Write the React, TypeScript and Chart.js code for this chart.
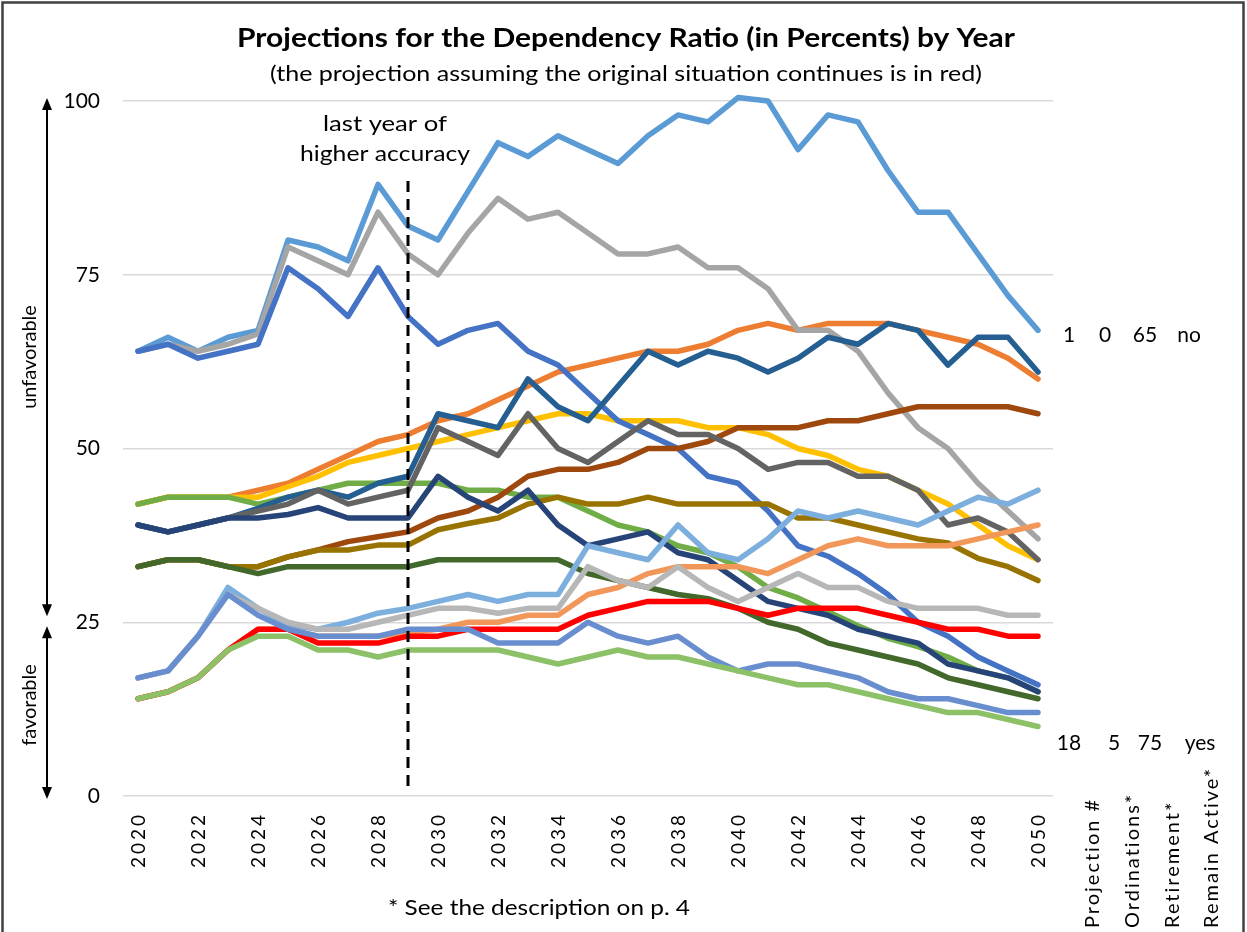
import React, { useEffect, useRef } from "react";
import { Chart, registerables } from "chart.js";

Chart.register(...registerables);

// ---------- data ----------
const years = [
  "2020", "2021", "2022", "2023", "2024", "2025", "2026", "2027", "2028", "2029",
  "2030", "2031", "2032", "2033", "2034", "2035", "2036", "2037", "2038", "2039",
  "2040", "2041", "2042", "2043", "2044", "2045", "2046", "2047", "2048", "2049", "2050",
];
const xTickLabels = ["2020", "2022", "2024", "2026", "2028", "2030", "2032", "2034", "2036", "2038", "2040", "2042", "2044", "2046", "2048", "2050"];
const yTicks = [0, 25, 50, 75, 100];

const p1 = [64, 66, 64, 66, 67, 80, 79, 77, 88, 82, 80, 87, 94, 92, 95, 93, 91, 95, 98, 97, 100.5, 100, 93, 98, 97, 90, 84, 84, 78, 72, 67];
const p2 = [42, 43, 43, 43, 44, 45, 47, 49, 51, 52, 54, 55, 57, 59, 61, 62, 63, 64, 64, 65, 67, 68, 67, 68, 68, 68, 67, 66, 65, 63, 60];
const p3 = [64, 65, 64, 65, 66.5, 79, 77, 75, 84, 78, 75, 81, 86, 83, 84, 81, 78, 78, 79, 76, 76, 73, 67, 67, 64, 58, 53, 50, 45, 41, 37];
const p4 = [42, 43, 43, 43, 43, 44.5, 46, 48, 49, 50, 51, 52, 53, 54, 55, 55, 54, 54, 54, 53, 53, 52, 50, 49, 47, 46, 44, 42, 39, 36, 34];
const p5 = [64, 65, 63, 64, 65, 76, 73, 69, 76, 69, 65, 67, 68, 64, 62, 58, 54, 52, 50, 46, 45, 41, 36, 34.5, 32, 29, 25, 23, 20, 18, 16];
const p6 = [42, 43, 43, 43, 42, 43, 44, 45, 45, 45, 45, 44, 44, 43, 43, 41, 39, 38, 36, 35, 33, 30, 28.5, 26.5, 24.5, 22.7, 21.5, 20, 18, 17, 15];
const p7 = [39, 38, 39, 40, 41.4, 43, 44, 43, 45, 46, 55, 54, 53, 60, 56, 54, 59, 64, 62, 64, 63, 61, 63, 66, 65, 68, 67, 62, 66, 66, 61];
const p8 = [33, 34, 34, 33, 33, 34.4, 35.4, 36.6, 37.3, 38, 40, 41, 43, 46, 47, 47, 48, 50, 50, 51, 53, 53, 53, 54, 54, 55, 56, 56, 56, 56, 55];
const p9 = [39, 38, 39, 40, 41, 42, 44, 42, 43, 44, 53, 51, 49, 55, 50, 48, 51, 54, 52, 52, 50, 47, 48, 48, 46, 46, 44, 39, 40, 38, 34];
const p10 = [33, 34, 34, 33, 33, 34.4, 35.4, 35.4, 36.1, 36.1, 38.3, 39.2, 40, 42, 43, 42, 42, 43, 42, 42, 42, 42, 40, 40, 39, 38, 37, 36.4, 34.2, 33, 31];
const p11 = [39, 38, 39, 40, 40, 40.5, 41.5, 40, 40, 40, 46, 43, 41, 44, 39, 36, 37, 38, 35, 34, 31, 28, 27, 26, 24, 23, 22, 19, 18, 17, 15];
const p12 = [33, 34, 34, 33, 32, 33, 33, 33, 33, 33, 34, 34, 34, 34, 34, 32, 31, 30, 29, 28.4, 27, 25, 24, 22, 21, 20, 19, 17, 16, 15, 14];
const p13 = [17, 18, 23, 30, 27, 24.6, 24, 25, 26.3, 27, 28, 29, 28, 29, 29, 36, 35, 34, 39, 35, 34, 37, 41, 40, 41, 40, 39, 41, 43, 42, 44];
const p14 = [14, 15, 17, 21, 24, 24, 23, 23, 23, 23.5, 24, 25, 25, 26, 26, 29, 30, 32, 33, 33, 33, 32, 34, 36, 37, 36, 36, 36, 37, 38, 39];
const p15 = [17, 18, 23, 29, 27, 25, 24, 24, 25, 26, 27, 27, 26.3, 27, 27, 33, 31, 30, 33, 30, 28, 30, 32, 30, 30, 28, 27, 27, 27, 26, 26];
const p16 = [14, 15, 17, 21, 24, 24, 22, 22, 22, 23, 23, 24, 24, 24, 24, 26, 27, 28, 28, 28, 27, 26, 27, 27, 27, 26, 25, 24, 24, 23, 23];
const p17 = [17, 18, 23, 29, 26, 24, 23, 23, 23, 24, 24, 24, 22, 22, 22, 25, 23, 22, 23, 20, 18, 19, 19, 18, 17, 15, 14, 14, 13, 12, 12];
const p18 = [14, 15, 17, 21, 23, 23, 21, 21, 20, 21, 21, 21, 21, 20, 19, 20, 21, 20, 20, 19, 18, 17, 16, 16, 15, 14, 13, 12, 12, 11, 10];

const series = [p1, p2, p3, p4, p5, p6, p7, p8, p9, p10, p11, p12, p13, p14, p15, p16, p17, p18];
const seriesColors = [
  "#5B9BD5", "#ED7D31", "#A5A5A5", "#FFC000", "#4472C4", "#70AD47",
  "#255E91", "#9E480E", "#636363", "#997300", "#264478", "#43682B",
  "#7CAFDD", "#F1975A", "#B7B7B7", "#FF0000", "#698ED0", "#8CC168",
];

const titleText = "Projections for the Dependency Ratio (in Percents) by Year";
const subtitleText = "(the projection assuming the original situation continues is in red)";
const markerYearIndex = 9; // 2029
const markerLines = ["last year of", "higher accuracy"];
const topRowLabels = ["1", "0", "65", "no"];
const bottomRowLabels = ["18", "5", "75", "yes"];
const columnHeaders = ["Projection #", "Ordinations*", "Retirement*", "Remain Active*"];
const footnote = "* See the description on p. 4";

const FONT = "Lato, 'Open Sans', sans-serif";

function fitText(ctx: CanvasRenderingContext2D, text: string, cx: number, y: number, font: string, width: number) {
  ctx.save();
  ctx.font = font;
  const w = ctx.measureText(text).width;
  ctx.translate(cx, y);
  ctx.scale(width / w, 1);
  ctx.textAlign = "center";
  ctx.fillText(text, 0, 0);
  ctx.restore();
}

function arrow(ctx: CanvasRenderingContext2D, x: number, y1: number, y2: number) {
  ctx.beginPath();
  ctx.moveTo(x, y1 + 10);
  ctx.lineTo(x, y2 - 10);
  ctx.stroke();
  ctx.beginPath();
  ctx.moveTo(x, y1);
  ctx.lineTo(x - 5, y1 + 12);
  ctx.lineTo(x + 5, y1 + 12);
  ctx.closePath();
  ctx.fill();
  ctx.beginPath();
  ctx.moveTo(x, y2);
  ctx.lineTo(x - 5, y2 - 12);
  ctx.lineTo(x + 5, y2 - 12);
  ctx.closePath();
  ctx.fill();
}

const decorPlugin = {
  id: "decor",
  beforeDraw(chart: any) {
    const ctx = chart.ctx as CanvasRenderingContext2D;
    ctx.save();
    ctx.fillStyle = "#ffffff";
    ctx.fillRect(0, 0, chart.width, chart.height);
    ctx.restore();
  },
  afterDatasetsDraw(chart: any) {
    const ctx = chart.ctx as CanvasRenderingContext2D;
    const xs = chart.scales.x;
    const ys = chart.scales.y;
    ctx.save();
    const mx = xs.getPixelForValue(markerYearIndex);
    ctx.strokeStyle = "#000";
    ctx.lineWidth = 3;
    ctx.setLineDash([11, 7]);
    ctx.beginPath();
    ctx.moveTo(mx, ys.getPixelForValue(88.5));
    ctx.lineTo(mx, ys.getPixelForValue(0.8));
    ctx.stroke();
    ctx.setLineDash([]);
    ctx.restore();
  },
  afterDraw(chart: any) {
    const ctx = chart.ctx as CanvasRenderingContext2D;
    const xs = chart.scales.x;
    const ys = chart.scales.y;
    const area = chart.chartArea;
    ctx.save();

    // frame
    ctx.strokeStyle = "#404040";
    ctx.lineWidth = 2.5;
    ctx.strokeRect(2.5, 2.5, 1241, 960);

    // title + subtitle
    ctx.fillStyle = "#000";
    ctx.textBaseline = "alphabetic";
    fitText(ctx, titleText, 626, 47, `bold 27px ${FONT}`, 778);
    fitText(ctx, subtitleText, 626, 81, `22px ${FONT}`, 712);

    // marker text
    const mx = xs.getPixelForValue(markerYearIndex);
    fitText(ctx, markerLines[0], mx - 23, 131, `22px ${FONT}`, 124);
    fitText(ctx, markerLines[1], mx - 23, 161, `22px ${FONT}`, 170);

    // x tick labels (rotated)
    ctx.font = `19px ${FONT}`;
    (ctx as any).letterSpacing = "3px";
    ctx.textAlign = "right";
    ctx.textBaseline = "middle";
    xTickLabels.forEach((lab) => {
      const idx = years.indexOf(lab);
      const x = xs.getPixelForValue(idx);
      ctx.save();
      ctx.translate(x + 1, area.bottom + 16);
      ctx.rotate(-Math.PI / 2);
      ctx.fillText(lab, 0, 0);
      ctx.restore();
    });

    // column headers
    ctx.font = `20px ${FONT}`;
    (ctx as any).letterSpacing = "2px";
    ctx.textAlign = "left";
    const hx = [1093, 1133, 1173, 1212];
    columnHeaders.forEach((h, i) => {
      ctx.save();
      ctx.translate(hx[i], 928);
      ctx.rotate(-Math.PI / 2);
      ctx.fillText(h, 0, 0);
      ctx.restore();
    });
    (ctx as any).letterSpacing = "0px";

    // row labels at the right
    ctx.font = `21px ${FONT}`;
    ctx.textAlign = "center";
    const topX = [1069, 1105, 1145, 1189];
    const botX = [1069, 1114, 1150, 1200];
    topRowLabels.forEach((t, i) => ctx.fillText(t, topX[i], 335));
    bottomRowLabels.forEach((t, i) => ctx.fillText(t, botX[i], 743));

    // arrows & side labels
    ctx.fillStyle = "#000";
    ctx.strokeStyle = "#000";
    ctx.lineWidth = 2;
    arrow(ctx, 47, ys.getPixelForValue(100) - 3, ys.getPixelForValue(25) - 6);
    arrow(ctx, 47, ys.getPixelForValue(25) + 4, ys.getPixelForValue(0) + 3);
    ctx.font = `20px ${FONT}`;
    ctx.textBaseline = "middle";
    ctx.save();
    ctx.translate(30, 357);
    ctx.rotate(-Math.PI / 2);
    ctx.fillText("unfavorable", 0, 0);
    ctx.restore();
    ctx.save();
    ctx.translate(30, 705);
    ctx.rotate(-Math.PI / 2);
    ctx.fillText("favorable", 0, 0);
    ctx.restore();

    // footnote
    ctx.textBaseline = "alphabetic";
    fitText(ctx, footnote, 539, 915, `22px ${FONT}`, 302);

    ctx.restore();
  },
};

export default function App() {
  const canvasRef = useRef<HTMLCanvasElement | null>(null);

  useEffect(() => {
    if (!canvasRef.current) return;
    const chart = new Chart(canvasRef.current, {
      type: "line",
      data: {
        labels: years,
        datasets: series.map((d, i) => ({
          label: `Projection ${i + 1}`,
          data: d,
          borderColor: seriesColors[i],
          backgroundColor: seriesColors[i],
          borderWidth: 5.5,
          pointRadius: 0,
          pointHoverRadius: 0,
          tension: 0,
          fill: false,
          borderJoinStyle: "round" as const,
          borderCapStyle: "round" as const,
          clip: false as any,
          order: series.length - i,
        })),
      },
      options: {
        responsive: false,
        animation: false,
        layout: { padding: { top: 101, left: 0, right: 194, bottom: 0 } },
        plugins: {
          legend: { display: false },
          tooltip: { enabled: false },
          title: { display: false },
        },
        scales: {
          x: {
            type: "category",
            offset: true,
            grid: { display: false },
            border: { display: false },
            ticks: { display: false },
            afterFit: (s: any) => {
              s.height = 136;
            },
          },
          y: {
            min: 0,
            max: 100,
            afterBuildTicks: (s: any) => {
              s.ticks = yTicks.map((v) => ({ value: v }));
            },
            grid: { color: "#D9D9D9", lineWidth: 1.5, drawTicks: false },
            border: { display: false },
            ticks: {
              padding: 23,
              color: "#000",
              font: { family: FONT, size: 21 },
            },
            afterFit: (s: any) => {
              s.width = 123;
            },
          },
        },
      },
      plugins: [decorPlugin],
    });
    return () => chart.destroy();
  }, []);

  return (
    <div style={{ position: "fixed", left: 0, top: 0, width: 1247, height: 932, background: "#fff" }}>
      <canvas ref={canvasRef} width={1247} height={932} />
    </div>
  );
}
